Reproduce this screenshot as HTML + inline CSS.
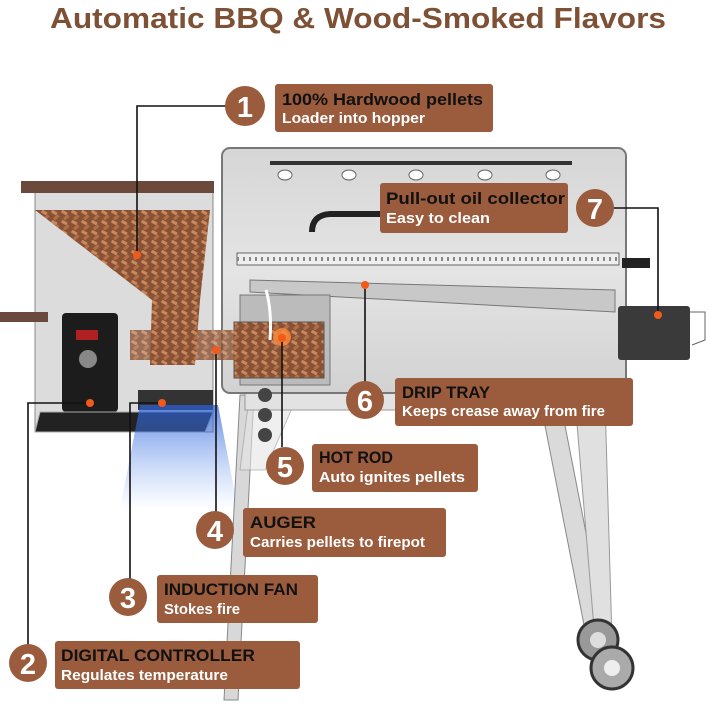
<!DOCTYPE html>
<html><head><meta charset="utf-8"><style>
html,body{margin:0;padding:0;background:#fff}
svg{display:block}
.h{font-family:"Liberation Sans",sans-serif;font-weight:bold;font-size:17px;fill:#111}
.s{font-family:"Liberation Sans",sans-serif;font-weight:bold;font-size:15px;fill:#fff}
.n{font-family:"Liberation Sans",sans-serif;font-weight:bold;font-size:29px;fill:#fff}
.b{fill:#9a5c3d}
.l{stroke:#111;stroke-width:1.6;fill:none}
.d{fill:#f05a1a}
</style></head><body>
<svg width="709" height="709" viewBox="0 0 709 709" xmlns="http://www.w3.org/2000/svg">
<defs>
<linearGradient id="blue" x1="0" y1="0" x2="0" y2="1"><stop offset="0" stop-color="#2a5fd8" stop-opacity="0.9"/><stop offset="1" stop-color="#6d9cf0" stop-opacity="0"/></linearGradient>
<linearGradient id="barrel" x1="0" y1="0" x2="0" y2="1"><stop offset="0" stop-color="#d6d6d6"/><stop offset="0.5" stop-color="#e4e4e4"/><stop offset="1" stop-color="#d2d2d2"/></linearGradient>
<pattern id="pel" width="10" height="10" patternUnits="userSpaceOnUse"><rect width="10" height="10" fill="#8a5234"/><rect x="1" y="1" width="6" height="3" fill="#c98a60" transform="rotate(30 4 3)"/><rect x="3" y="6" width="6" height="3" fill="#b27048" transform="rotate(-40 6 7)"/></pattern>
</defs>
<text x="358" y="28" text-anchor="middle" font-family="Liberation Sans,sans-serif" font-weight="bold" font-size="29" fill="#7e5035" textLength="616" lengthAdjust="spacingAndGlyphs">Automatic BBQ &amp; Wood-Smoked Flavors</text>

<!-- legs -->
<polygon points="240,395 254,395 238,700 224,700" fill="#d8d8d8" stroke="#888"/>
<polygon points="250,390 300,390 265,470 240,470" fill="#e6e6e6" stroke="#999" opacity="0.6"/>
<polygon points="540,400 560,400 605,630 585,630" fill="#dadada" stroke="#888"/>
<polygon points="575,400 605,400 612,640 595,640" fill="#e0e0e0" stroke="#999"/>
<rect x="245" y="380" width="360" height="30" fill="#e2e2e2" stroke="#999"/>
<circle cx="598" cy="640" r="20" fill="#999" stroke="#333" stroke-width="3"/><circle cx="598" cy="640" r="8" fill="#ddd"/>
<circle cx="612" cy="668" r="21" fill="#aaa" stroke="#333" stroke-width="3"/><circle cx="612" cy="668" r="8" fill="#eee"/>

<!-- barrel -->
<rect x="222" y="148" width="404" height="245" rx="8" fill="url(#barrel)" stroke="#777" stroke-width="2"/>
<rect x="270" y="161" width="302" height="4" fill="#333"/>
<g fill="#fff" stroke="#666"><ellipse cx="285" cy="175" rx="7" ry="5"/><ellipse cx="349" cy="175" rx="7" ry="5"/><ellipse cx="416" cy="175" rx="7" ry="5"/><ellipse cx="485" cy="175" rx="7" ry="5"/><ellipse cx="553" cy="175" rx="7" ry="5"/></g>
<path d="M312,232 Q312,215 330,214 L382,214" stroke="#222" stroke-width="6" fill="none"/>
<rect x="237" y="253" width="382" height="12" fill="#eee" stroke="#666"/>
<line x1="237" y1="259" x2="619" y2="259" stroke="#888" stroke-dasharray="2,4" stroke-width="4"/>
<rect x="622" y="258" width="28" height="10" fill="#222"/>
<polygon points="250,280 615,290 615,312 250,292" fill="#c8c8c8" stroke="#777"/>
<rect x="240" y="295" width="90" height="90" fill="#bbb" stroke="#777"/>
<rect x="234" y="322" width="90" height="56" fill="url(#pel)" stroke="#555"/>
<path d="M270 340 Q272 310 266 290" stroke="#fff" stroke-width="3" fill="none"/>
<circle cx="282" cy="337" r="9" fill="#ff8a3a" opacity="0.8"/>
<rect x="618" y="306" width="72" height="54" rx="3" fill="#3a3a3a"/>
<path d="M690 312 L705 312 L705 340 L692 345" stroke="#666" fill="none"/>
<g fill="#444"><circle cx="265" cy="395" r="7"/><circle cx="265" cy="415" r="7"/><circle cx="265" cy="435" r="7"/></g>

<!-- hopper -->
<rect x="35" y="192" width="178" height="240" fill="#dcdcdc" stroke="#888"/>
<rect x="21" y="181" width="193" height="12" fill="#6b4a3c"/>
<polygon points="35,210 210,210 200,300 195,365 150,365 152,300" fill="url(#pel)"/>
<rect x="130" y="330" width="105" height="30" fill="url(#pel)" opacity="0.8"/>
<rect x="0" y="312" width="48" height="10" fill="#6b4a3c"/>
<rect x="62" y="313" width="56" height="99" rx="4" fill="#1c1c1c"/>
<rect x="76" y="330" width="22" height="10" fill="#b02020"/>
<circle cx="88" cy="359" r="9" fill="#888"/>
<rect x="138" y="390" width="75" height="20" fill="#333"/>
<polygon points="40,412 213,412 205,432 35,432" fill="#222" stroke="#aaa"/>
<polygon points="140,405 218,405 238,510 120,510" fill="url(#blue)" opacity="0.8"/>

<!-- leader lines -->
<polyline class="l" points="226,106 137,106 137,255"/>
<polyline class="l" points="612,208 658,208 658,315"/>
<polyline class="l" points="365,382 365,285"/>
<polyline class="l" points="282,447 282,338"/>
<polyline class="l" points="216,512 216,350"/>
<polyline class="l" points="130,580 130,403 162,403"/>
<polyline class="l" points="28,645 28,403 90,403"/>
<g class="d"><circle cx="137" cy="255" r="4"/><circle cx="658" cy="315" r="4"/><circle cx="365" cy="285" r="4"/><circle cx="282" cy="338" r="4"/><circle cx="216" cy="350" r="4"/><circle cx="162" cy="403" r="4"/><circle cx="90" cy="403" r="4"/></g>

<!-- labels -->
<g class="b">
<circle cx="245" cy="106" r="20"/><rect x="275" y="84" width="218" height="48" rx="3"/>
<circle cx="595" cy="208" r="19"/><rect x="380" y="183" width="188" height="50" rx="3"/>
<circle cx="365" cy="400" r="19"/><rect x="395" y="378" width="238" height="48" rx="3"/>
<circle cx="285" cy="466" r="19"/><rect x="312" y="444" width="166" height="48" rx="3"/>
<circle cx="215" cy="530" r="19"/><rect x="243" y="508" width="203" height="49" rx="3"/>
<circle cx="128" cy="597" r="19"/><rect x="157" y="575" width="161" height="48" rx="3"/>
<circle cx="28" cy="663" r="19"/><rect x="55" y="641" width="245" height="48" rx="3"/>
</g>
<g class="n" text-anchor="middle">
<text x="245" y="117">1</text><text x="595" y="219">7</text><text x="365" y="411">6</text><text x="285" y="477">5</text><text x="215" y="541">4</text><text x="128" y="608">3</text><text x="28" y="674">2</text>
</g>
<g lengthAdjust="spacingAndGlyphs">
<text class="h" x="282" y="105" textLength="201" lengthAdjust="spacingAndGlyphs">100% Hardwood  pellets</text><text class="s" x="282" y="123" textLength="143" lengthAdjust="spacingAndGlyphs">Loader into hopper</text>
<text class="h" x="386" y="204" textLength="179" lengthAdjust="spacingAndGlyphs">Pull-out oil collector</text><text class="s" x="386" y="223" textLength="104" lengthAdjust="spacingAndGlyphs">Easy to clean</text>
<text class="h" x="402" y="398" textLength="88" lengthAdjust="spacingAndGlyphs">DRIP TRAY</text><text class="s" x="402" y="416" textLength="203" lengthAdjust="spacingAndGlyphs">Keeps crease away from fire</text>
<text class="h" x="319" y="463" textLength="74" lengthAdjust="spacingAndGlyphs">HOT ROD</text><text class="s" x="319" y="482" textLength="146" lengthAdjust="spacingAndGlyphs">Auto ignites pellets</text>
<text class="h" x="250" y="528" textLength="66" lengthAdjust="spacingAndGlyphs">AUGER</text><text class="s" x="250" y="547" textLength="175" lengthAdjust="spacingAndGlyphs">Carries pellets to firepot</text>
<text class="h" x="164" y="595" textLength="134" lengthAdjust="spacingAndGlyphs">INDUCTION FAN</text><text class="s" x="164" y="614" textLength="76" lengthAdjust="spacingAndGlyphs">Stokes fire</text>
<text class="h" x="61" y="661" textLength="194" lengthAdjust="spacingAndGlyphs">DIGITAL CONTROLLER</text><text class="s" x="61" y="680" textLength="167" lengthAdjust="spacingAndGlyphs">Regulates temperature</text>
</g>
</svg>
</body></html>
